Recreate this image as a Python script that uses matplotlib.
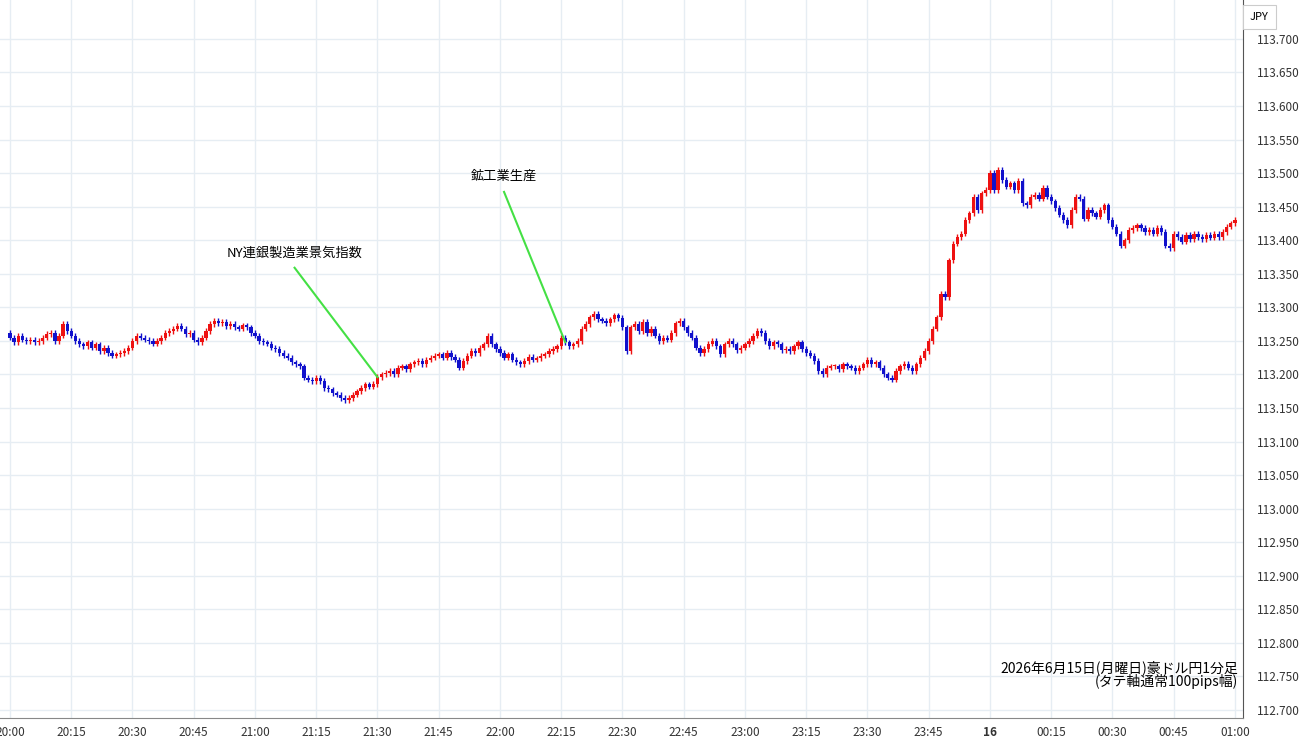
import matplotlib
matplotlib.use("Agg")
import matplotlib.pyplot as plt
import numpy as np

plt.rcParams['font.family'] = ['Noto Sans CJK JP', 'DejaVu Sans']

# 1-minute closes, 20:00 .. 01:00 (15 per row = one quarter hour)
closes = [
    113.255, 113.248, 113.258, 113.252, 113.250, 113.252, 113.248, 113.250, 113.255, 113.260, 113.262, 113.250, 113.258, 113.275, 113.265,
    113.258, 113.250, 113.245, 113.242, 113.248, 113.240, 113.245, 113.235, 113.240, 113.232, 113.228, 113.230, 113.232, 113.235, 113.240,
    113.250, 113.258, 113.255, 113.252, 113.250, 113.246, 113.250, 113.255, 113.262, 113.265, 113.268, 113.272, 113.268, 113.260, 113.262,
    113.252, 113.248, 113.255, 113.265, 113.275, 113.280, 113.276, 113.278, 113.272, 113.275, 113.270, 113.268, 113.273, 113.270, 113.262,
    113.258, 113.250, 113.248, 113.246, 113.240, 113.238, 113.232, 113.228, 113.225, 113.218, 113.215, 113.212, 113.195, 113.192, 113.190,
    113.195, 113.190, 113.180, 113.178, 113.172, 113.170, 113.165, 113.162, 113.165, 113.170, 113.175, 113.180, 113.185, 113.182, 113.186,
    113.196, 113.200, 113.202, 113.205, 113.200, 113.210, 113.212, 113.208, 113.215, 113.218, 113.220, 113.215, 113.222, 113.225, 113.228,
    113.230, 113.225, 113.232, 113.226, 113.222, 113.210, 113.220, 113.228, 113.235, 113.232, 113.240, 113.245, 113.258, 113.245, 113.238,
    113.232, 113.225, 113.230, 113.222, 113.218, 113.215, 113.220, 113.226, 113.222, 113.224, 113.228, 113.230, 113.235, 113.238, 113.242,
    113.255, 113.248, 113.242, 113.245, 113.250, 113.268, 113.275, 113.285, 113.290, 113.282, 113.280, 113.276, 113.282, 113.288, 113.284,
    113.270, 113.235, 113.270, 113.275, 113.265, 113.278, 113.262, 113.268, 113.258, 113.250, 113.255, 113.252, 113.262, 113.276, 113.280,
    113.270, 113.262, 113.255, 113.240, 113.232, 113.238, 113.246, 113.250, 113.242, 113.230, 113.245, 113.250, 113.245, 113.236, 113.240,
    113.245, 113.250, 113.258, 113.265, 113.262, 113.250, 113.242, 113.248, 113.245, 113.236, 113.238, 113.235, 113.242, 113.248, 113.238,
    113.232, 113.228, 113.220, 113.205, 113.200, 113.210, 113.212, 113.212, 113.208, 113.215, 113.212, 113.210, 113.205, 113.210, 113.215,
    113.222, 113.215, 113.218, 113.210, 113.200, 113.195, 113.192, 113.205, 113.212, 113.216, 113.210, 113.205, 113.215, 113.225, 113.235,
    113.250, 113.268, 113.285, 113.320, 113.315, 113.370, 113.395, 113.405, 113.410, 113.430, 113.440, 113.465, 113.445, 113.470, 113.475,
    113.500, 113.475, 113.505, 113.490, 113.480, 113.485, 113.475, 113.488, 113.455, 113.452, 113.465, 113.468, 113.462, 113.478, 113.465,
    113.458, 113.448, 113.438, 113.430, 113.422, 113.445, 113.465, 113.462, 113.432, 113.445, 113.440, 113.435, 113.445, 113.452, 113.430,
    113.420, 113.410, 113.392, 113.400, 113.415, 113.418, 113.422, 113.418, 113.412, 113.415, 113.410, 113.418, 113.412, 113.392, 113.388,
    113.410, 113.405, 113.398, 113.408, 113.402, 113.410, 113.405, 113.402, 113.408, 113.404, 113.410, 113.405, 113.412, 113.420, 113.425,
    113.430,
]
first_open = 113.262
xtick_labels = ["20:00", "20:15", "20:30", "20:45", "21:00", "21:15", "21:30", "21:45", "22:00",
                "22:15", "22:30", "22:45", "23:00", "23:15", "23:30", "23:45", "16", "00:15",
                "00:30", "00:45", "01:00"]
yticks = [112.70 + 0.05 * i for i in range(21)]
events = [("NY連銀製造業景気指数", 90), ("鉱工業生産", 136)]

closes = np.array(closes)
opens = np.concatenate([[first_open], closes[:-1]])
x = np.arange(len(closes))
wick = 0.004

fig = plt.figure(figsize=(13, 7.45), dpi=100)
ax = fig.add_axes([0, 1 - 718 / 745, 1243 / 1300, 718 / 745])
ax.set_xlim(-2.45, 301.99)
ax.set_ylim(112.688, 113.758)

up = closes >= opens
for cond, col in [(up, "#ee1111"), (~up, "#1111cc")]:
    lo = np.minimum(opens, closes)[cond]
    hi = np.maximum(opens, closes)[cond]
    ax.vlines(x[cond], lo - wick, hi + wick, color=col, lw=1)
    ax.bar(x[cond], np.maximum(hi - lo, 0.0015), bottom=lo, width=0.8, color=col, lw=0)

ax.set_xticks(np.arange(0, 301, 15))
ax.set_xticklabels(xtick_labels)
ax.set_yticks(yticks)
ax.set_yticklabels(["%.3f" % v for v in yticks])
ax.yaxis.tick_right()
ax.tick_params(axis="both", length=0, labelsize=8.5, colors="#333333")
ax.tick_params(axis="y", pad=10)
ax.tick_params(axis="x", pad=6)
for lab in ax.get_xticklabels():
    if lab.get_text() == "16":
        lab.set_fontweight("bold")
ax.grid(True, color="#e6edf3", lw=1)
ax.set_axisbelow(True)
for s in ["top", "left"]:
    ax.spines[s].set_visible(False)
ax.spines["right"].set_color("#555555")
ax.spines["bottom"].set_color("#888888")

# event labels
text_pos = [(69.7, 113.371, 113.359), (121.0, 113.485, 113.472)]
for (name, idx), (tx, ty, ly) in zip(events, text_pos):
    ax.plot([tx, idx], [ly, closes[idx]], color="#44e044", lw=1.5)
    ax.text(tx, ty, name, ha="center", va="bottom", fontsize=9.5)

fig.text(1250 / 1300, 1 - 17 / 745, "JPY", fontsize=8, va="center", ha="left",
         bbox=dict(boxstyle="square,pad=0.6", fc="white", ec="#cccccc", lw=0.8))
ax.text(1238 / 1243, 0.040, "2026年6月15日(月曜日)豪ドル円1分足\n(タテ軸通常100pips幅)",
        transform=ax.transAxes, ha="right", va="bottom", fontsize=10, linespacing=0.95)

fig.savefig("out.png", dpi=100)
